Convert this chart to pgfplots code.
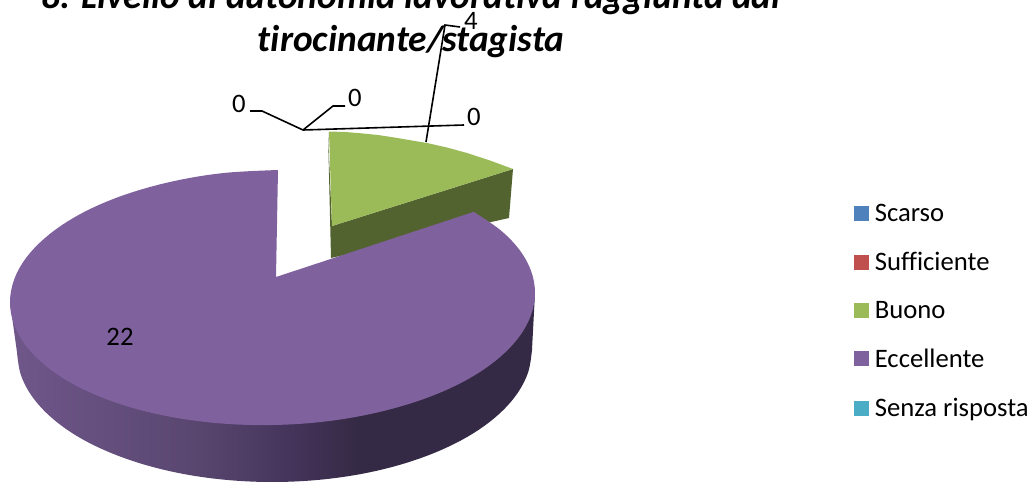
\documentclass[border=0pt]{standalone}
\usepackage{pgfplots}
\pgfplotsset{compat=1.18}
\usepackage{fontspec}
\setmainfont[Ligatures=NoCommon]{Carlito}
\definecolor{cPurple}{HTML}{7F619E}
\definecolor{cGreen}{HTML}{9BBB59}
\definecolor{cGreenD}{HTML}{536330}
\definecolor{cBlue}{HTML}{4F81BD}
\definecolor{cRed}{HTML}{C0504D}
\definecolor{cTeal}{HTML}{4BACC6}
\definecolor{sA}{HTML}{6F5689}
\definecolor{sB}{HTML}{644F7E}
\definecolor{sC}{HTML}{59466F}
\definecolor{sD}{HTML}{44345A}
\definecolor{sE}{HTML}{352A45}
\pgfdeclarehorizontalshading{pieside}{100bp}{
 color(0bp)=(sA);
 color(26bp)=(sA);
 color(33.6bp)=(sB);
 color(43bp)=(sC);
 color(51.7bp)=(sD);
 color(58.3bp)=(sE);
 color(100bp)=(sE)}
\begin{document}
\begin{tikzpicture}
\path[use as bounding box] (0,0) rectangle (774pt,361.5pt);
\begin{axis}[
  at={(0,0)}, anchor=south west,
  width=774pt, height=361.5pt, scale only axis,
  xmin=0, xmax=1032, ymin=0, ymax=482, y dir=reverse,
  hide axis, clip=true,
  legend cell align=left,
  legend style={at={(axis cs:854,201)}, anchor=north west, draw=none, fill=none,
    font=\fontsize{20}{22}\selectfont, row sep=17.5pt, inner xsep=0pt, inner ysep=0pt},
  legend image code/.code={\fill[#1,draw=none] (0pt,-5.6pt) rectangle (11.2pt,5.6pt);\path[draw=none,fill=none] (0pt,0pt) -- (13.4pt,0pt);},
]
\addlegendimage{fill=cBlue}\addlegendentry{Scarso}
\addlegendimage{fill=cRed}\addlegendentry{Sufficiente}
\addlegendimage{fill=cGreen}\addlegendentry{Buono}
\addlegendimage{fill=cPurple}\addlegendentry{Eccellente}
\addlegendimage{fill=cTeal}\addlegendentry{Senza risposta}

% green slice side
\addplot[forget plot, draw=none, fill=cGreenD] coordinates {
 (328,132) (332,226) (513,169) (509,218) (331,258)} --cycle;
% green slice top
\addplot[forget plot, draw=none, fill=cGreen] coordinates {
 (332,226) (329,131.5) (345,132) (360,133.2) (378,135) (395,137.6) (412,140.5) (427,143) (447,147.5) (467,153) (490,160.5) (513,169)} --cycle;
% purple side
\addplot[forget plot, draw=none, shading=pieside, smooth, tension=0.6] coordinates {
 (17,352.3) (20.9,375) (32.5,397) (51.5,417.6) (77.2,436.2) (109,452.1) (145.7,465) (186.4,474.5) (229.8,480.2) (274.5,482) (319.2,479.8) (362.6,473.7) (403.3,463.8) (440,450.5) (471.8,434.2) (497.5,415.4) (516.5,394.6) (528.1,372.4) (532,349.7)} -- (axis cs:535,293) -- (axis cs:10,302) -- cycle;
% purple top
\addplot[forget plot, draw=none, fill=cPurple, smooth, tension=0.6] coordinates {
 (278,170) (226.9,172.7) (182.7,179.3) (141.2,189.5) (103.8,202.8) (71.4,219.1) (45.2,237.8) (25.8,258.3) (14,280) (10,302.2) (14,324.2) (25.8,345.5) (45.2,365.4) (71.4,383.1) (103.8,398.2) (141.2,410.3) (182.7,418.9) (226.9,423.9) (272.5,425) (318.1,422.3) (362.3,415.7) (403.8,405.5) (441.2,392.2) (473.6,375.9) (499.8,357.2) (519.2,336.7) (531,315) (535,292.8) (531,270.8) (519.2,249.5) (499.8,229.6) (473.6,211.9)} -- (axis cs:276,277) -- cycle;
% leader lines
\addplot[forget plot, black, line width=1.2pt] coordinates {(303,130) (262,111) (250,111)};
\addplot[forget plot, black, line width=1.2pt] coordinates {(303,130) (333,106) (345,106)};
\addplot[forget plot, black, line width=1.2pt] coordinates {(303,130) (464,125)};
\addplot[forget plot, black, line width=1.2pt] coordinates {(426,142) (445,25) (460,27)};

\node[font=\fontsize{20}{22}\selectfont] at (axis cs:239,104) {0};
\node[font=\fontsize{20}{22}\selectfont] at (axis cs:355,98) {0};
\node[font=\fontsize{20}{22}\selectfont] at (axis cs:474,117) {0};
\node[font=\fontsize{20}{22}\selectfont] at (axis cs:471,21) {4};
\node[font=\fontsize{20}{22}\selectfont] at (axis cs:120,337) {22};
\node[font=\fontsize{28}{32}\bfseries\itshape\selectfont, anchor=base] at (axis cs:411,8) {8. Livello di autonomia lavorativa raggiunta dal};
\node[font=\fontsize{28}{32}\bfseries\itshape\selectfont, anchor=base] at (axis cs:411,51) {tirocinante/stagista};
\end{axis}
\end{tikzpicture}
\end{document}
